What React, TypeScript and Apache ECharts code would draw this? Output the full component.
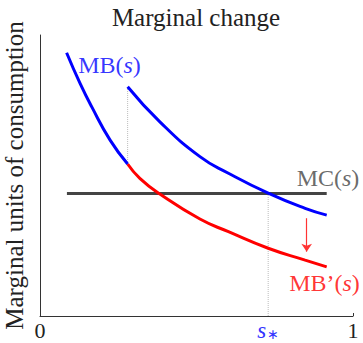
import React, { useEffect, useRef } from 'react';
import * as echarts from 'echarts';

// Values (x and y both on a 0..1 scale)
const blue1X = [0.085, 0.128, 0.165, 0.224, 0.280];
const blue1Y = [0.937, 0.828, 0.745, 0.626, 0.541];
const redX = [0.280, 0.319, 0.383, 0.511, 0.602, 0.729, 0.847, 0.916];
const redY = [0.541, 0.490, 0.434, 0.345, 0.300, 0.241, 0.199, 0.175];
const blue2X = [0.280, 0.383, 0.511, 0.602, 0.729, 0.847, 0.916];
const blue2Y = [0.816, 0.691, 0.567, 0.508, 0.437, 0.383, 0.359];
const mcX = [0.086, 0.916];
const mcY = [0.436, 0.436];
const sStar = 0.729;
const shiftX = 0.280;
const arrowX = 0.852;
const arrowY = [0.348, 0.229];
const xTickValues = [0, sStar, 1];
const xTickLabels = ['0', 's*', '1'];
const curveLabels = ['MB(s)', 'MC(s)', "MB'(s)"];
const labelX = [0.222, 0.92, 0.909];
const labelY = [0.893, 0.491, 0.117];
const labelColors = ['#0000ff', '#444444', '#ff0000'];

const FONT = 'Liberation Serif';

const zip = (xs: number[], ys: number[]) => xs.map((x, i) => [x, ys[i]]);

function richLabel(t: string) {
  const m = t.match(/^(.*\()s(\))$/);
  if (!m) return t;
  return `{r|${m[1].replace("'", '\u2019')}}{i|s}{r|${m[2]}}`;
}

export default function App() {
  const ref = useRef<HTMLDivElement>(null);
  useEffect(() => {
    if (!ref.current) return;
    const chart = echarts.init(ref.current, undefined, { renderer: 'svg' });
    const curveStyle = (color: string) => ({
      type: 'line' as const,
      showSymbol: false,
      smooth: 0.5,
      lineStyle: { color, width: 3 },
      silent: true,
    });
    chart.setOption({
      animation: false,
      backgroundColor: '#ffffff',
      title: {
        text: 'Marginal change',
        left: 191,
        top: 0,
        textAlign: 'center',
        textStyle: { fontFamily: FONT, fontSize: 25, fontWeight: 'normal', color: '#222' },
      },
      grid: { left: 40, right: 10, top: 35, bottom: 27, containLabel: false, outerBoundsMode: 'none' },
      xAxis: {
        type: 'value',
        min: 0,
        max: 1,
        splitLine: { show: false },
        axisLine: { lineStyle: { color: '#333', width: 1 } },
        axisTick: { show: true, inside: true, length: 3, customValues: [0, 1], lineStyle: { color: '#333' } },
        axisLabel: {
          customValues: xTickValues,
          margin: 3,
          fontFamily: FONT,
          fontSize: 22,
          lineHeight: 22,
          color: '#222',
          formatter: (v: number) => {
            const i = xTickValues.findIndex((t) => Math.abs(t - v) < 1e-6);
            const l = i >= 0 ? xTickLabels[i] : '';
            return l === 's*' ? '{s|s}{sub|\u2217}' : l;
          },
          rich: {
            s: { fontFamily: FONT, fontStyle: 'italic', fontSize: 23, lineHeight: 22, color: '#3333ff' },
            sub: { fontFamily: FONT, fontSize: 14, lineHeight: 14, color: '#3333ff', verticalAlign: 'bottom', padding: [4, 0, 0, 1] },
          },
        },
      },
      yAxis: {
        type: 'value',
        min: 0,
        max: 1,
        name: 'Marginal units of consumption',
        nameLocation: 'middle',
        nameRotate: 90,
        nameGap: 13,
        nameTextStyle: { fontFamily: FONT, fontSize: 25, color: '#222' },
        splitLine: { show: false },
        axisLine: { show: true, lineStyle: { color: '#333', width: 1 } },
        axisTick: { show: false },
        axisLabel: { show: false },
      },
      series: [
        {
          type: 'line',
          data: zip([shiftX, shiftX], [blue1Y[blue1Y.length - 1], blue2Y[0]]),
          showSymbol: false,
          lineStyle: { color: '#bbbbbb', width: 1, type: 'dotted' },
          silent: true,
        },
        {
          type: 'line',
          data: zip([sStar, sStar], [0, mcY[0]]),
          showSymbol: false,
          lineStyle: { color: '#bbbbbb', width: 1, type: 'dotted' },
          silent: true,
        },
        {
          type: 'line',
          data: zip(mcX, mcY),
          showSymbol: false,
          lineStyle: { color: '#444444', width: 3 },
          silent: true,
        },
        { ...curveStyle('#ff0000'), data: zip(redX, redY) },
        { ...curveStyle('#0000ff'), data: zip(blue1X, blue1Y) },
        { ...curveStyle('#0000ff'), data: zip(blue2X, blue2Y) },
        {
          type: 'line',
          data: [],
          silent: true,
          markLine: {
            silent: true,
            symbol: ['none', 'arrow'],
            symbolSize: 8,
            label: { show: false },
            lineStyle: { color: '#ff3333', width: 1.2, type: 'solid' },
            data: [[{ coord: [arrowX, arrowY[0]] }, { coord: [arrowX, arrowY[1]] }]],
          },
        },
        {
          type: 'scatter',
          symbolSize: 0,
          silent: true,
          data: curveLabels.map((t, i) => ({
            value: [labelX[i], labelY[i]],
            label: {
              show: true,
              position: 'inside',
              formatter: richLabel(t),
              rich: {
                r: { fontFamily: FONT, fontSize: 24, color: labelColors[i] },
                i: { fontFamily: FONT, fontSize: 24, fontStyle: 'italic', color: labelColors[i] },
              },
            },
          })),
        },
      ],
    });
    return () => chart.dispose();
  }, []);
  return <div ref={ref} style={{ position: 'fixed', left: 0, top: 0, width: 363, height: 343 }} />;
}
